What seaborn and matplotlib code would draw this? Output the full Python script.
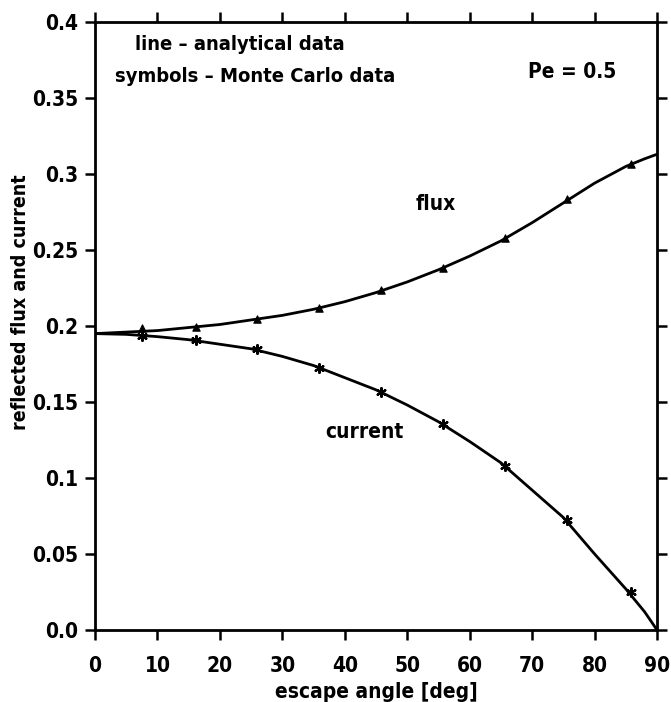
import numpy as np
import pandas as pd
import matplotlib
matplotlib.use("Agg")
import matplotlib.pyplot as plt
import seaborn as sns

# Analytical curves (escape angle in degrees)
line_angle = [0, 5, 10, 15, 20, 25, 30, 35, 40, 45, 50, 55, 60, 65, 70, 75, 80, 85, 88, 90]
flux_line = [0.195, 0.196, 0.197, 0.199, 0.201, 0.204, 0.207, 0.211, 0.216, 0.222,
             0.229, 0.237, 0.246, 0.256, 0.268, 0.281, 0.294, 0.305, 0.310, 0.313]
current_line = [0.195, 0.1945, 0.193, 0.191, 0.188, 0.185, 0.180, 0.174, 0.166, 0.158,
                0.148, 0.137, 0.124, 0.110, 0.092, 0.074, 0.050, 0.027, 0.012, 0.0]

# Monte Carlo results
mc_angle = [7.5, 16.2, 26.0, 35.8, 45.8, 55.7, 65.6, 75.6, 85.8]
flux_mc = [0.1988, 0.1993, 0.2046, 0.2116, 0.2234, 0.2384, 0.2579, 0.2833, 0.3065]
current_mc = [0.1935, 0.1907, 0.1846, 0.1726, 0.1569, 0.1353, 0.108, 0.0726, 0.0253]

x_ticks = [0, 10, 20, 30, 40, 50, 60, 70, 80, 90]
y_ticks = [0.0, 0.05, 0.1, 0.15, 0.2, 0.25, 0.3, 0.35, 0.4]
y_tick_labels = ["0.0", "0.05", "0.1", "0.15", "0.2", "0.25", "0.3", "0.35", "0.4"]

sns.set_theme(style="ticks")
plt.rcParams["font.family"] = ["DejaVu Sans"]
plt.rcParams["font.weight"] = "bold"
plt.rcParams["font.stretch"] = "condensed"
plt.rcParams["text.color"] = "black"
plt.rcParams["axes.labelcolor"] = "black"

lines = pd.DataFrame({"angle": line_angle, "flux": flux_line, "current": current_line})
mc = pd.DataFrame({"angle": mc_angle, "flux": flux_mc, "current": current_mc})

fig = plt.figure(figsize=(6.71, 7.02), dpi=100)
ax = fig.add_axes([0.1416, 0.1026, 0.8376, 0.866])

sns.lineplot(data=lines, x="angle", y="flux", ax=ax, color="black", lw=2.0)
sns.lineplot(data=lines, x="angle", y="current", ax=ax, color="black", lw=2.0)
sns.scatterplot(data=mc, x="angle", y="flux", ax=ax, marker="^", s=28,
                color="black", edgecolor="black", linewidth=0.8, zorder=3)
sns.scatterplot(data=mc, x="angle", y="current", ax=ax, marker=(6, 2, 0), s=40,
                color="black", linewidth=1.6, zorder=3)

ax.set_xlim(0, 90)
ax.set_ylim(0, 0.4)
ax.set_xticks(x_ticks)
ax.set_yticks(y_ticks)
ax.set_yticklabels(y_tick_labels)

for side in ["left", "right", "top", "bottom"]:
    ax.spines[side].set_visible(True)
    ax.spines[side].set_linewidth(2.0)
    ax.spines[side].set_color("black")

ax.tick_params(axis="both", which="both", direction="out", length=7, width=1.8,
               colors="black", labelsize=15, pad=5)
ax.tick_params(top=True, right=True, labeltop=False, labelright=False)
ax.tick_params(axis="x", pad=12)

ax.set_xlabel("escape angle [deg]", fontsize=15, fontweight="bold", labelpad=4)
ax.set_ylabel("reflected flux and current", fontsize=14, fontweight="bold")
ax.yaxis.set_label_coords(-0.115, 0.54)

ax.text(6.4, 0.385, "line \u2013 analytical data", fontsize=14.5, fontweight="bold", va="center")
ax.text(3.2, 0.364, "symbols \u2013 Monte Carlo data", fontsize=14.5, fontweight="bold", va="center")
ax.text(69.3, 0.367, "Pe = 0.5", fontsize=15, fontweight="bold", va="center")
ax.text(54.6, 0.280, "flux", fontsize=15, fontweight="bold", ha="center", va="center")
ax.text(43.2, 0.130, "current", fontsize=15, fontweight="bold", ha="center", va="center")

fig.savefig("out.png", dpi=100, facecolor="white")
